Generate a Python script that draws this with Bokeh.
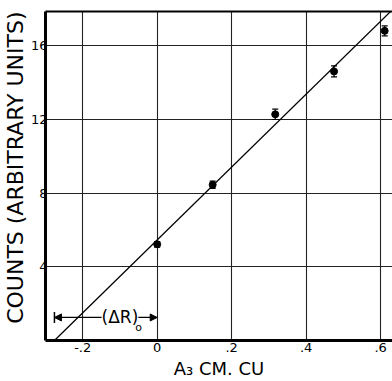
from bokeh.plotting import figure
from bokeh.models import (ColumnDataSource, FixedTicker, Whisker, TeeHead, Arrow,
                          NormalHead, Label, LinearAxis, Range1d)
from bokeh.embed import file_html
from bokeh.resources import INLINE

# data
a3 = [0.0, 0.149, 0.317, 0.475, 0.611]
counts = [5.22, 8.45, 12.27, 14.6, 16.8]
err = [0.15, 0.2, 0.28, 0.3, 0.27]
fit_x = [-0.276, 0.632]
fit_y = [0.0, 17.95]
dr0 = -0.276
x_ticks = [-0.2, 0.0, 0.2, 0.4, 0.6]
x_tick_labels = ["-.2", "0", ".2", ".4", ".6"]
y_ticks = [4, 8, 12, 16]
y_tick_labels = ["4", "8", "12", "16"]

FONT = "DejaVu Sans"

p = figure(width=392, height=381, output_backend="svg", toolbar_location=None,
           x_range=Range1d(-0.3, 0.632), y_range=Range1d(0, 17.85),
           min_border_left=43, min_border_right=0, min_border_top=11,
           min_border_bottom=40, title_location="left")
p.outline_line_color = None
p.background_fill_color = "white"
p.border_fill_color = "white"

# y axis title (left title)
p.title.text = "COUNTS (ARBITRARY UNITS)"
p.title.text_font = FONT
p.title.text_font_size = "22px"
p.title.text_font_style = "normal"
p.title.text_color = "black"
p.title.align = "right"
p.title.standoff = 0
p.title.offset = 0
p.title.text_line_height = 0.75

# grid
for g in (p.xgrid, p.ygrid):
    g.grid_line_color = "#222222"
    g.grid_line_width = 1.1
p.xgrid.ticker = FixedTicker(ticks=x_ticks)
p.ygrid.ticker = FixedTicker(ticks=y_ticks)

# axes
xa = p.xaxis[0]
ya = p.yaxis[0]
xa.ticker = FixedTicker(ticks=x_ticks)
ya.ticker = FixedTicker(ticks=y_ticks)
xa.major_label_overrides = dict(zip(x_ticks, x_tick_labels))
ya.major_label_overrides = dict(zip(y_ticks, y_tick_labels))
for ax in (xa, ya):
    ax.axis_line_width = 3
    ax.axis_line_color = "black"
    ax.major_tick_out = 0
    ax.major_tick_in = 0
    ax.minor_tick_out = 0
    ax.minor_tick_in = 0
    ax.major_label_text_font = FONT
    ax.major_label_text_font_size = "13px"
    ax.major_label_text_color = "black"
    ax.axis_label_text_font = FONT
    ax.axis_label_text_font_style = "normal"
    ax.axis_label_text_color = "black"
xa.axis_label = "A₃ CM. CU"
xa.axis_label_text_font_size = "18px"
xa.major_label_standoff = 2
xa.axis_label_standoff = 3
ya.major_label_standoff = -2

top = LinearAxis(ticker=FixedTicker(ticks=[]), axis_line_width=2,
                 major_tick_out=0, major_tick_in=0, minor_tick_out=0, minor_tick_in=0)
p.add_layout(top, "above")

# fit line
p.line(fit_x, fit_y, line_color="black", line_width=1.3)

# points with error bars
src = ColumnDataSource(dict(x=a3, y=counts,
                            upper=[c + e for c, e in zip(counts, err)],
                            lower=[c - e for c, e in zip(counts, err)]))
p.add_layout(Whisker(source=src, base="x", upper="upper", lower="lower",
                     line_color="black", line_width=1.2,
                     upper_head=TeeHead(size=6, line_color="black", line_width=1.2),
                     lower_head=TeeHead(size=6, line_color="black", line_width=1.2)))
p.scatter("x", "y", source=src, size=7, color="black")

# (ΔR)0 annotation
ay = 1.25
p.segment(x0=[dr0], y0=[ay - 0.3], x1=[dr0], y1=[ay + 0.3], line_color="black", line_width=1.5)
p.add_layout(Arrow(x_start=(dr0 + 0.0) / 2 + 0.03, y_start=ay, x_end=dr0, y_end=ay,
                   line_color="black", line_width=1.2,
                   end=NormalHead(size=7, fill_color="black", line_color="black"), start=None))
p.add_layout(Arrow(x_start=(dr0 + 0.0) / 2, y_start=ay, x_end=0.0, y_end=ay,
                   line_color="black", line_width=1.2,
                   end=NormalHead(size=7, fill_color="black", line_color="black"), start=None))
p.add_layout(Label(x=-0.1, y=ay, text="(ΔR)", text_font=FONT, text_font_size="17px",
                   text_align="center", text_baseline="middle", text_color="black",
                   background_fill_color="white"))
p.add_layout(Label(x=-0.05, y=ay - 0.55, text="o", text_font=FONT, text_font_size="11px",
                   text_align="center", text_baseline="middle", text_color="black"))

open("out.html", "w").write(file_html(p, INLINE))
